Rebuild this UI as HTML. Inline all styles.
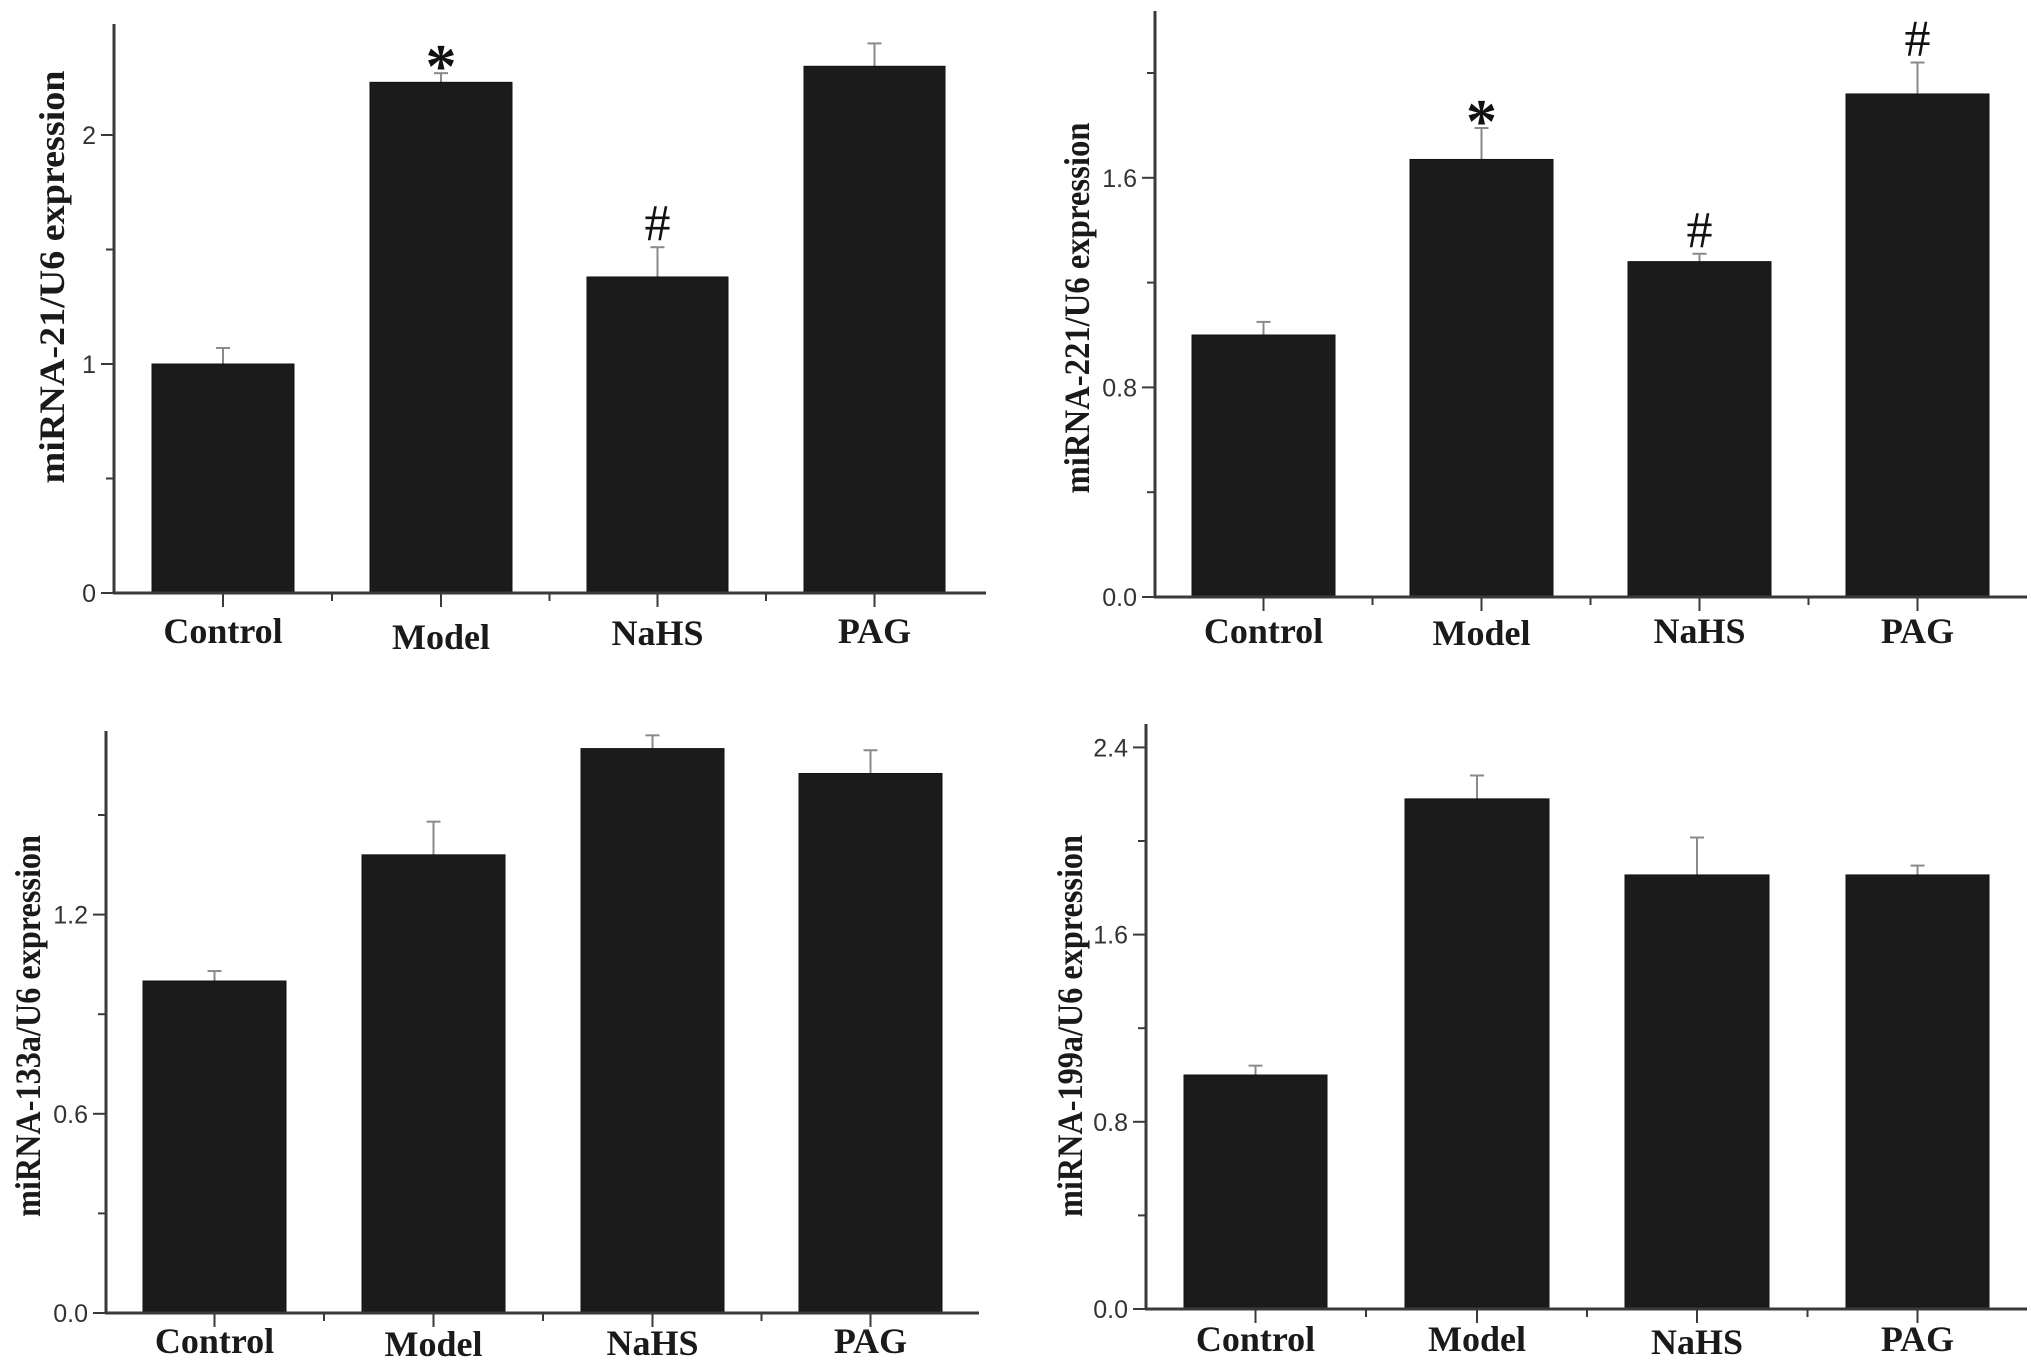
<!DOCTYPE html>
<html>
<head>
<meta charset="utf-8">
<style>
html,body{margin:0;padding:0;background:#fff;}
svg{display:block;}
</style>
</head>
<body>
<svg id="fig" width="2031" height="1365" viewBox="0 0 2031 1365" xmlns="http://www.w3.org/2000/svg"></svg>
<script>
// ---- data ----
const categories = ["Control", "Model", "NaHS", "PAG"];

const mir21Values = [1.00, 2.23, 1.38, 2.30];
const mir21Errors = [0.07, 0.04, 0.13, 0.10];
const mir21Marks = ["", "*", "#", ""];
const mir21Ticks = [0, 1, 2];
const mir21TickLabels = ["0", "1", "2"];

const mir221Values = [1.00, 1.67, 1.28, 1.92];
const mir221Errors = [0.05, 0.12, 0.03, 0.12];
const mir221Marks = ["", "*", "#", "#"];
const mir221Ticks = [0, 0.8, 1.6];
const mir221TickLabels = ["0.0", "0.8", "1.6"];

const mir133Values = [1.00, 1.38, 1.70, 1.625];
const mir133Errors = [0.03, 0.10, 0.04, 0.07];
const mir133Marks = ["", "", "", ""];
const mir133Ticks = [0, 0.6, 1.2];
const mir133TickLabels = ["0.0", "0.6", "1.2"];

const mir199Values = [1.00, 2.18, 1.855, 1.855];
const mir199Errors = [0.04, 0.10, 0.16, 0.04];
const mir199Marks = ["", "", "", ""];
const mir199Ticks = [0, 0.8, 1.6, 2.4];
const mir199TickLabels = ["0.0", "0.8", "1.6", "2.4"];

// ---- layout ----
const panels = [
  {id:"mir21", title:"miRNA-21/U6 expression", values:mir21Values, errors:mir21Errors, marks:mir21Marks, ticks:mir21Ticks, tickLabels:mir21TickLabels, minor:0.5, maxMinor:2.5,
   ax:114, top:24, base:593, right:986, pxPerUnit:229, bars:[[152,294],[370,512],[587,728],[804,945]], labelY:[643,649,645,643], ylx:52, ylc:277, yll:413},
  {id:"mir221", title:"miRNA-221/U6 expression", values:mir221Values, errors:mir221Errors, marks:mir221Marks, ticks:mir221Ticks, tickLabels:mir221TickLabels, minor:0.4, maxMinor:2.2,
   ax:1155, top:11, base:597, right:2027, pxPerUnit:262, bars:[[1192,1335],[1410,1553],[1628,1771],[1846,1989]], labelY:[643,645,643,643], ylx:1077, ylc:308, yll:371},
  {id:"mir133", title:"miRNA-133a/U6 expression", values:mir133Values, errors:mir133Errors, marks:mir133Marks, ticks:mir133Ticks, tickLabels:mir133TickLabels, minor:0.3, maxMinor:1.7,
   ax:106, top:731, base:1313, right:979, pxPerUnit:332, bars:[[143,286],[362,505],[581,724],[799,942]], labelY:[1353,1356,1355,1353], ylx:28, ylc:1026, yll:382},
  {id:"mir199", title:"miRNA-199a/U6 expression", values:mir199Values, errors:mir199Errors, marks:mir199Marks, ticks:mir199Ticks, tickLabels:mir199TickLabels, minor:0.4, maxMinor:2.5,
   ax:1146, top:724, base:1309, right:2027, pxPerUnit:234, bars:[[1184,1327],[1405,1549],[1625,1769],[1846,1989]], labelY:[1351,1351,1354,1351], ylx:1070, ylc:1026, yll:382}
];

const NS = "http://www.w3.org/2000/svg";
const svg = document.getElementById("fig");
function mk(tag, attrs, parent){
  const e = document.createElementNS(NS, tag);
  for (const k in attrs) e.setAttribute(k, attrs[k]);
  (parent||svg).appendChild(e);
  return e;
}

panels.forEach(p => {
  const g = mk("g", {});
  
  
  const y = v => p.base - v * p.pxPerUnit;
  const axisCol = "#3a3a3a";

  p.values.forEach((v, i) => {
    const [x0, x1] = p.bars[i];
    const cx = (x0 + x1) / 2;
    const eTop = y(v + p.errors[i]);
    const ln = mk("line", {x1:cx, x2:cx, y1:y(v), y2:eTop, stroke:"#8a8a8a", "stroke-width":2}, g);
    
    
    const cap = mk("line", {x1:cx-7, x2:cx+7, y1:eTop, y2:eTop, stroke:"#8a8a8a", "stroke-width":2}, g);
    
    
    const r = mk("rect", {x:x0, y:y(v), width:x1-x0, height:p.base-y(v), fill:"#1b1b1b", stroke:"#111", "stroke-width":1}, g);
    
    
    if (p.marks[i]) {
      const isStar = p.marks[i] === "*";
      const t = mk("text", {x:cx, y: isStar ? eTop + 14 : eTop - 7, "text-anchor":"middle",
        "font-family":"Liberation Serif, serif", "font-size": isStar ? 62 : 52, "font-weight": isStar ? "bold":"normal", fill:"#111"}, g);
      t.textContent = p.marks[i];
      
      
    }
    const ct = mk("line", {x1:cx, x2:cx, y1:p.base, y2:p.base+14, stroke:axisCol, "stroke-width":2}, g);
    
    
    const lab = mk("text", {x:cx, y:p.labelY[i], "text-anchor":"middle", "font-family":"Liberation Serif, serif",
      "font-size":36, "font-weight":"bold", fill:"#1a1a1a"}, g);
    lab.textContent = categories[i];
    
    
    if (i < p.values.length - 1) {
      const mx = (x1 + p.bars[i+1][0]) / 2;
      const mt = mk("line", {x1:mx, x2:mx, y1:p.base, y2:p.base+8, stroke:axisCol, "stroke-width":2}, g);
      
      
    }
  });

  const ya = mk("line", {x1:p.ax, x2:p.ax, y1:p.top, y2:p.base+1, stroke:axisCol, "stroke-width":3}, g);
  
  
  const xa = mk("line", {x1:p.ax-1, x2:p.right, y1:p.base, y2:p.base, stroke:axisCol, "stroke-width":3}, g);
  
  

  for (let v = p.minor; v <= p.maxMinor + 1e-9; v += p.minor * 2) {
    if (y(v) < p.top) break;
    const t = mk("line", {x1:p.ax-8, x2:p.ax, y1:y(v), y2:y(v), stroke:axisCol, "stroke-width":2}, g);
    
    
  }
  p.ticks.forEach((v, i) => {
    const t = mk("line", {x1:p.ax-13, x2:p.ax, y1:y(v), y2:y(v), stroke:axisCol, "stroke-width":2}, g);
    
    
    const tl = mk("text", {x:p.ax-18, y:y(v)+9, "text-anchor":"end", "font-family":"Liberation Sans, sans-serif",
      "font-size":25, fill:"#333"}, g);
    tl.textContent = p.tickLabels[i];
    
    
  });

  const yt = mk("text", {x:0, y:0, "text-anchor":"middle", "font-family":"Liberation Serif, serif", "font-size":36,
    "font-weight":"bold", fill:"#1a1a1a", textLength:p.yll, lengthAdjust:"spacingAndGlyphs",
    transform:`translate(${p.ylx + 12},${p.ylc}) rotate(-90)`}, g);
  yt.textContent = p.title;
  
  
});
</script>
</body>
</html>
